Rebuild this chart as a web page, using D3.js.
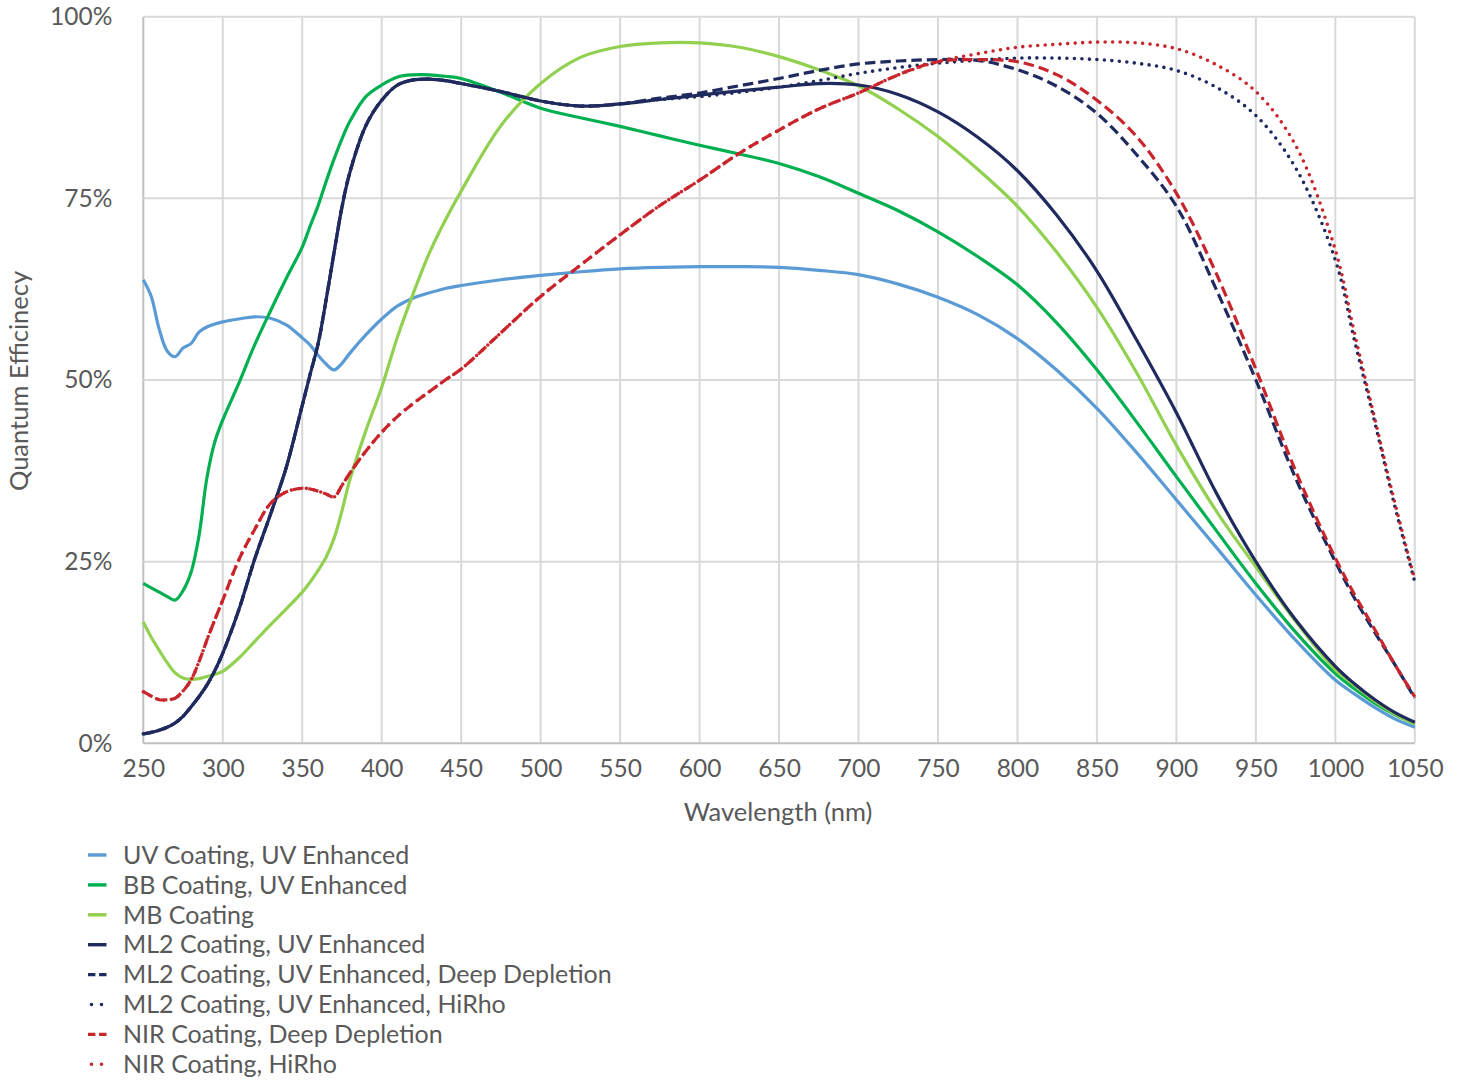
<!DOCTYPE html>
<html><head><meta charset="utf-8">
<script src="https://cdn.jsdelivr.net/npm/d3@7"></script>
<style>body{margin:0;background:#fff}svg{display:block}text{font-family:Lato,"Open Sans",sans-serif;fill:#595959}</style>
</head><body>
<script>
const wavelengths = [250,255,260,265,270,275,280,285,290,295,300,310,320,330,340,350,355,360,365,370,375,380,390,400,410,420,430,440,450,475,500,525,550,575,600,625,650,675,700,725,750,775,800,825,850,875,900,925,950,975,1000,1012,1025,1037,1050];

const uvCoatingUV = [63.8,61.5,57.0,54.0,53.2,54.4,55.0,56.6,57.3,57.7,58.0,58.4,58.7,58.5,57.6,55.8,54.8,53.4,52.2,51.4,52.3,53.7,56.2,58.4,60.2,61.3,62.0,62.6,63.0,63.8,64.4,64.9,65.3,65.5,65.6,65.6,65.5,65.1,64.5,63.2,61.4,59.0,55.7,51.3,46.1,40.0,33.5,27.0,20.4,14.2,8.7,6.8,4.9,3.4,2.2];

const bbCoatingUV = [22.0,21.4,20.8,20.2,19.7,21.0,23.5,28.5,36.5,41.5,44.5,49.5,54.8,59.5,64.0,68.3,71.2,74.0,77.3,80.4,83.2,85.6,89.0,90.6,91.7,92.0,92.0,91.8,91.5,89.6,87.4,86.1,84.9,83.6,82.3,81.1,79.8,78.0,75.7,73.3,70.4,67.0,63.1,57.8,51.4,44.2,36.7,29.3,22.0,15.3,9.6,7.5,5.5,4.0,2.7];

const mbCoating = [16.7,14.6,12.8,11.1,9.7,9.0,8.8,8.9,9.2,9.5,9.9,11.7,14.0,16.3,18.5,20.8,22.2,23.8,25.6,28.2,32.0,36.3,43.0,49.0,56.0,62.0,67.5,72.0,76.0,85.0,90.8,94.4,95.9,96.4,96.4,95.8,94.5,92.7,90.5,87.3,83.5,79.0,73.9,67.5,60.0,51.0,41.0,32.0,24.3,16.8,10.1,8.0,5.8,4.1,2.7];

const ml2CoatingUV = [1.3,1.5,1.8,2.2,2.8,3.7,5.0,6.4,8.0,10.0,12.4,18.3,25.3,31.5,38.0,46.5,50.8,55.0,61.0,67.5,73.8,78.6,85.0,88.5,90.6,91.3,91.4,91.2,90.8,89.7,88.4,87.7,88.0,88.6,89.2,89.8,90.3,90.8,90.6,89.3,86.9,83.4,78.8,72.6,65.0,55.5,45.5,34.5,25.0,17.0,10.6,8.2,6.0,4.3,2.9];

const ml2CoatingUVDeep = [1.3,1.5,1.8,2.2,2.8,3.7,5.0,6.4,8.0,10.0,12.4,18.3,25.3,31.5,38.0,46.5,50.8,55.0,61.0,67.5,73.8,78.6,85.0,88.5,90.6,91.3,91.4,91.2,90.8,89.7,88.4,87.7,88.0,88.8,89.5,90.5,91.5,92.6,93.5,93.9,94.1,94.0,92.7,90.4,86.7,81.0,73.9,62.5,50.0,36.5,25.0,20.0,15.2,11.0,6.2];

const ml2CoatingUVHiRho = [1.3,1.5,1.8,2.2,2.8,3.7,5.0,6.4,8.0,10.0,12.4,18.3,25.3,31.5,38.0,46.5,50.8,55.0,61.0,67.5,73.8,78.6,85.0,88.5,90.6,91.3,91.4,91.2,90.8,89.7,88.4,87.7,88.0,88.6,89.0,89.6,90.3,91.2,92.2,93.0,93.6,94.0,94.3,94.3,94.1,93.6,92.6,90.3,86.4,79.2,66.5,55.5,44.0,33.0,22.2];

const nirCoatingDeep = [7.1,6.5,6.0,6.0,6.2,7.2,8.7,11.2,14.2,17.0,19.7,25.2,29.4,33.0,34.6,35.1,35.0,34.7,34.3,33.9,35.5,37.2,40.2,42.8,45.0,46.8,48.4,50.0,51.5,56.5,61.5,65.8,70.0,74.0,77.5,81.2,84.4,87.3,89.5,92.0,93.8,94.1,93.8,92.0,88.5,83.5,75.7,64.7,51.5,37.5,25.5,20.5,15.6,11.0,6.4];

const nirCoatingHiRho = [7.1,6.5,6.0,6.0,6.2,7.2,8.7,11.2,14.2,17.0,19.7,25.2,29.4,33.0,34.6,35.1,35.0,34.7,34.3,33.9,35.5,37.2,40.2,42.8,45.0,46.8,48.4,50.0,51.5,56.5,61.5,65.8,70.0,74.0,77.5,81.2,84.4,87.3,89.5,92.0,93.8,94.9,95.8,96.2,96.5,96.4,95.6,93.4,89.7,82.3,67.9,56.5,44.5,33.5,22.5];

const seriesNames = ["UV Coating, UV Enhanced","BB Coating, UV Enhanced","MB Coating","ML2 Coating, UV Enhanced","ML2 Coating, UV Enhanced, Deep Depletion","ML2 Coating, UV Enhanced, HiRho","NIR Coating, Deep Depletion","NIR Coating, HiRho"];
const seriesValues = [uvCoatingUV,bbCoatingUV,mbCoating,ml2CoatingUV,ml2CoatingUVDeep,ml2CoatingUVHiRho,nirCoatingDeep,nirCoatingHiRho];
const seriesColors = ["#5B9BD5","#00B050","#92D050","#1F2A5E","#1F2A5E","#1F2A5E","#C9252C","#C9252C"];
const seriesStyles = ["solid","solid","solid","solid","dash","dot","dash","dot"];

const xTicks = [250,300,350,400,450,500,550,600,650,700,750,800,850,900,950,1000,1050];
const yTicks = [0,25,50,75,100];
const xTitle = "Wavelength (nm)";
const yTitle = "Quantum Efficinecy";

(function(){
const W = 1460, H = 1080;
const pL = 143.3, pR = 1414.8, pT = 16.7, pB = 743.3;
const FONT = "Lato, 'Open Sans', sans-serif";

const svg = d3.select("body").append("svg").attr("width", W).attr("height", H);
const x = d3.scaleLinear().domain([250,1050]).range([pL,pR]);
const y = d3.scaleLinear().domain([0,100]).range([pB,pT]);

const grid = svg.append("g");
grid.selectAll("line.v").data(xTicks).join("line").attr("class","v")
  .attr("x1", d=>x(d)).attr("x2", d=>x(d)).attr("y1", pT).attr("y2", pB)
  .attr("stroke", d=> d===250 ? "#BFBFBF" : "#D9D9D9").attr("stroke-width", 2);
grid.selectAll("line.h").data(yTicks).join("line").attr("class","h")
  .attr("x1", pL).attr("x2", pR).attr("y1", d=>y(d)).attr("y2", d=>y(d))
  .attr("stroke", d=> d===0 ? "#BFBFBF" : "#D9D9D9").attr("stroke-width", 2);

const xAxis = d3.axisBottom(x).tickValues(xTicks).tickSize(0).tickPadding(16).tickFormat(d3.format("d"));
const gx = svg.append("g").attr("transform", `translate(0,${pB})`).call(xAxis);
gx.select(".domain").remove();
gx.selectAll("text").style("font-size","24.5px").attr("fill","#595959").style("font-family",FONT);

const yAxis = d3.axisLeft(y).tickValues(yTicks).tickSize(0).tickPadding(31).tickFormat(d=>d+"%");
const gy = svg.append("g").attr("transform", `translate(${pL},0)`).call(yAxis);
gy.select(".domain").remove();
gy.selectAll("text").style("font-size","24.5px").attr("fill","#595959").style("font-family",FONT);

svg.append("text").attr("x", 778).attr("y", 821).attr("text-anchor","middle")
  .style("font-size","25.5px").text(xTitle);
svg.append("text").attr("transform", `translate(28,381) rotate(-90)`).attr("text-anchor","middle")
  .style("font-size","25.5px").text(yTitle);

const line = d3.line().x(d=>x(d[0])).y(d=>y(d[1])).curve(d3.curveCatmullRom.alpha(0.5));
const lines = svg.append("g");
seriesValues.forEach((vals,i)=>{
  const pts = wavelengths.map((w,j)=>[w, vals[j]]);
  const st = seriesStyles[i];
  lines.append("path").datum(pts)
    .attr("d", line).attr("fill","none")
    .attr("stroke", seriesColors[i])
    .attr("stroke-width", st==="dot" ? 3.6 : 3.2)
    .attr("stroke-dasharray", st==="dash" ? "10.5,5" : st==="dot" ? "0,7.5" : null)
    .attr("stroke-linecap", st==="dot" ? "round" : "butt")
    .attr("stroke-linejoin","round");
});

const lg = svg.append("g");
seriesNames.forEach((name,i)=>{
  const cy = 855 + i*29.9;
  const st = seriesStyles[i];
  if (st === "dot") {
    lg.append("line").attr("x1", 91.5).attr("x2", 101.6).attr("y1", cy).attr("y2", cy)
      .attr("stroke", seriesColors[i]).attr("stroke-width", 3.6)
      .attr("stroke-dasharray", "0,10").attr("stroke-linecap","round");
  } else {
    lg.append("line").attr("x1", 88).attr("x2", 106.5).attr("y1", cy).attr("y2", cy)
      .attr("stroke", seriesColors[i]).attr("stroke-width", 3.4)
      .attr("stroke-dasharray", st==="dash" ? "7.4,3.7" : null);
  }
  lg.append("text").attr("x", 123).attr("y", cy).attr("dy","0.35em")
    .style("font-size","25px").text(name);
});
})();
</script>
</body></html>
